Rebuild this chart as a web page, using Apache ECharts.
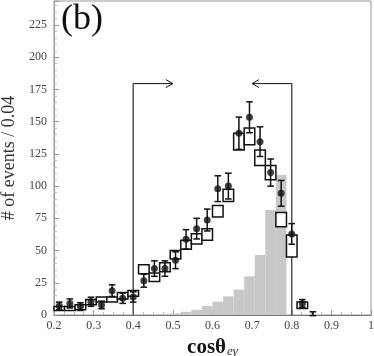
<!DOCTYPE html>
<html>
<head>
<meta charset="utf-8">
<script src="https://cdn.jsdelivr.net/npm/echarts@6/dist/echarts.min.js"></script>
<style>
  html, body { margin: 0; padding: 0; background: #fff; }
  #main { width: 374px; height: 356px; }
</style>
</head>
<body>
<div id="main"></div>
<script>
// binning of cos(theta_e gamma)
const binStart = 0.2;
const binWidth = 0.8 / 30;

// data points (dots with error bars)
const dataCounts = [7, 9, 6.5, 10.3, 7.8, 18.9, 13, 14, 26.6, 36, 36, 42.5, 58.7, 67, 73.7, 98, 100, 141, 153.4, 134.5, 110.5, 94.4, 62.9, 9, 1];
const dataErr = [3, 3.5, 3, 3.5, 3, 4.5, 4, 4, 5, 6, 6, 6.5, 7.5, 8, 8.5, 10, 10, 12.5, 12, 11.5, 10.5, 10, 8, 3, 1.5];

// MC expectation boxes (low / high edge)
const mcLow = [3.5, 3.5, 4, 8, 10, 10, 12.5, 14.5, 32, 26, 33.5, 43.5, 51, 55, 58, 76, 88, 128, 132, 116, 105, 68.5, 45, 5];
const mcHigh = [6.5, 6.5, 8, 12, 14, 14, 17.5, 19, 39, 32.5, 40.5, 50, 58, 63, 67, 85, 97.5, 141, 145, 128, 116, 79.5, 62, 10];

// gray signal histogram
const signalHist = [0, 0, 0, 0, 0, 0, 0, 0, 0, 0.5, 0.8, 1.3, 2.5, 4, 7, 10.3, 14.5, 19.7, 30, 46.6, 81.5, 108.6];

// selection cuts and arrows
const cutX = [0.4, 0.8];
const cutArrowEnd = [0.5, 0.7];
const cutTop = 179.5;

const xTicks = [0.2, 0.3, 0.4, 0.5, 0.6, 0.7, 0.8, 0.9, 1];
const yTicks = [0, 25, 50, 75, 100, 125, 150, 175, 200, 225];

const center = i => binStart + binWidth * (i + 0.5);

let chart = echarts.init(document.getElementById('main'));

const serif = 'Liberation Serif';

let option = {
  animation: false,
  grid: { left: 54, right: 3, top: 1, bottom: 41, show: true, borderColor: '#999', borderWidth: 1,
    outerBoundsMode: 'none', containLabel: false },
  xAxis: {
    type: 'value', min: xTicks[0], max: xTicks[xTicks.length - 1], interval: 0.1,
    axisLine: { lineStyle: { color: '#777' } },
    axisTick: { inside: true, length: 5, lineStyle: { color: '#999' } },
    minorTick: { show: true, splitNumber: 4, length: 3, lineStyle: { color: '#bbb' } },
    splitLine: { show: false },
    axisLabel: { color: '#444', fontFamily: serif, fontSize: 12, margin: 5,
      formatter: v => { const t = xTicks.find(x => Math.abs(x - v) < 1e-6); return t === undefined ? '' : String(t); } },
    name: '{a|cosθ}{b|eγ}', nameLocation: 'middle', nameGap: 13,
    nameTextStyle: {
      rich: {
        a: { fontFamily: serif, fontWeight: 'bold', fontSize: 21, color: '#111' },
        b: { fontFamily: serif, fontStyle: 'italic', fontSize: 13, color: '#333', padding: [9, 0, 0, 1] }
      }
    }
  },
  yAxis: {
    type: 'value', min: 0, max: 243.6, interval: 25,
    axisLine: { show: true, lineStyle: { color: '#999' } },
    axisTick: { inside: true, length: 5, lineStyle: { color: '#999' } },
    minorTick: { show: true, splitNumber: 5, length: 3, lineStyle: { color: '#bbb' } },
    splitLine: { show: false },
    axisLabel: { color: '#444', fontFamily: serif, fontSize: 12, margin: 7, showMaxLabel: false,
      formatter: v => yTicks.indexOf(Math.round(v)) >= 0 && Math.abs(v - Math.round(v)) < 1e-6 ? String(Math.round(v)) : '' },
    name: '# of events / 0.04', nameLocation: 'middle', nameGap: 32,
    nameTextStyle: { fontFamily: serif, fontSize: 18, color: '#333' }
  },
  graphic: [{
    type: 'text', left: 61, top: 2,
    style: { text: '(b)', fontFamily: serif, fontSize: 36, fill: '#111' }
  }],
  series: [
    {
      name: 'signal', type: 'custom', z: 1,
      data: signalHist.map((v, i) => [center(i), v]),
      renderItem: (params, api) => {
        const x = api.value(0), h = api.value(1);
        if (!h) return null;
        const p0 = api.coord([x - binWidth / 2, h]);
        const p1 = api.coord([x + binWidth / 2, 0]);
        return { type: 'rect', shape: { x: p0[0], y: p0[1], width: p1[0] - p0[0], height: p1[1] - p0[1] },
          style: { fill: '#c8c8c8' } };
      }
    },
    {
      name: 'cuts', type: 'custom', z: 2,
      data: cutX.map((x, i) => [x, cutArrowEnd[i], cutTop]),
      renderItem: (params, api) => {
        const x = api.value(0), xe = api.value(1), top = api.value(2);
        const pb = api.coord([x, 0]);
        const pt = api.coord([x, top]);
        const pe = api.coord([xe, top]);
        const dir = pe[0] > pt[0] ? 1 : -1;
        return { type: 'group', children: [
          { type: 'line', shape: { x1: pb[0], y1: pb[1], x2: pt[0], y2: pt[1] }, style: { stroke: '#555', lineWidth: 1.5 } },
          { type: 'line', shape: { x1: pt[0], y1: pt[1], x2: pe[0], y2: pe[1] }, style: { stroke: '#111', lineWidth: 1 } },
          { type: 'polyline', shape: { points: [[pe[0] - dir * 7, pe[1] - 4], [pe[0], pe[1]], [pe[0] - dir * 7, pe[1] + 4]] },
            style: { stroke: '#111', lineWidth: 1, fill: null } }
        ] };
      }
    },
    {
      name: 'MC', type: 'custom', z: 3,
      data: mcLow.map((lo, i) => [center(i), lo, mcHigh[i]]),
      renderItem: (params, api) => {
        const x = api.value(0);
        const p0 = api.coord([x - binWidth / 2, api.value(2)]);
        const p1 = api.coord([x + binWidth / 2, api.value(1)]);
        return { type: 'rect', shape: { x: p0[0], y: p0[1], width: p1[0] - p0[0], height: p1[1] - p0[1] },
          style: { fill: '#fff', stroke: '#111', lineWidth: 1.5 } };
      }
    },
    {
      name: 'errors', type: 'custom', z: 4,
      data: dataCounts.map((v, i) => [center(i), v - dataErr[i], v + dataErr[i]]),
      renderItem: (params, api) => {
        const x = api.value(0);
        const lo = api.coord([x, api.value(1)]);
        const hi = api.coord([x, api.value(2)]);
        const c = 3.3;
        const st = { stroke: '#111', lineWidth: 1.5 };
        return { type: 'group', children: [
          { type: 'line', shape: { x1: lo[0], y1: lo[1], x2: hi[0], y2: hi[1] }, style: st },
          { type: 'line', shape: { x1: lo[0] - c, y1: lo[1], x2: lo[0] + c, y2: lo[1] }, style: st },
          { type: 'line', shape: { x1: hi[0] - c, y1: hi[1], x2: hi[0] + c, y2: hi[1] }, style: st }
        ] };
      }
    },
    {
      name: 'data', type: 'scatter', z: 5,
      symbol: 'circle',
      symbolSize: v => (v[1] < 2 ? 2 : 7),
      itemStyle: { color: '#111' },
      data: dataCounts.map((v, i) => [center(i), v])
    }
  ]
};

chart.setOption(option);
</script>
</body>
</html>
